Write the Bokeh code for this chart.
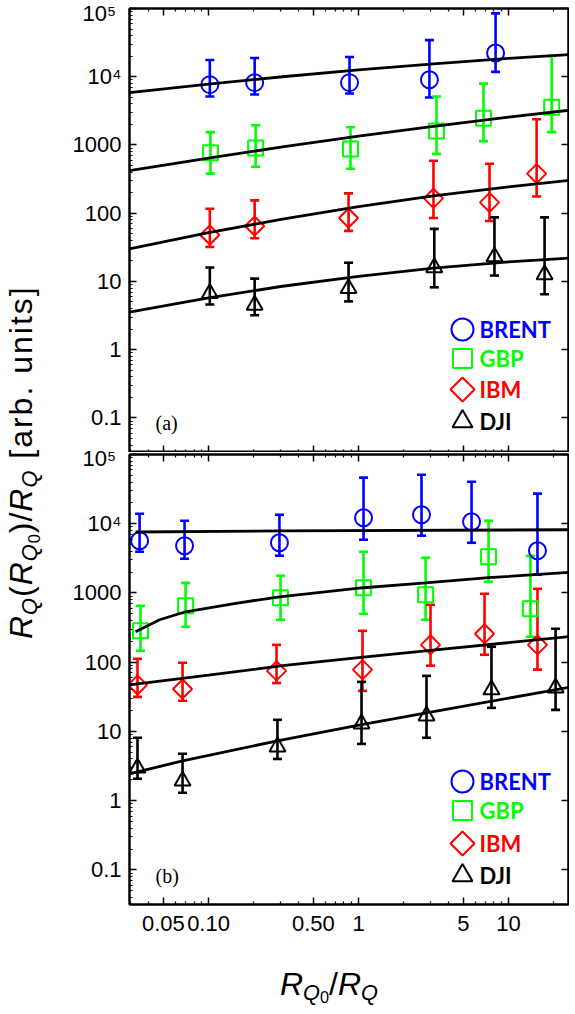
import math
from bokeh.plotting import figure
from bokeh.models import (ColumnDataSource, Whisker, TeeHead, FixedTicker, LogAxis,
                          Div, Range1d)
from bokeh.layouts import row, column
from bokeh.embed import file_html
from bokeh.resources import INLINE
from bokeh.core.properties import value

# ---------------- data ----------------
series_names = ["BRENT", "GBP", "IBM", "DJI"]
series_colors = ["#0000ff", "#00ff00", "#ff0000", "#000000"]

# panel (a)
brent_a_x = [0.102, 0.203, 0.871, 2.97, 8.2]
brent_a_y = [7660, 8190, 8190, 9050, 22300]
brent_a_hi = [17600, 18800, 19500, 34400, 84700]
brent_a_lo = [5130, 5480, 5670, 4960, 11800]

gbp_a_x = [0.103, 0.206, 0.884, 3.31, 6.81, 19.4]
gbp_a_y = [766, 906, 875, 1600, 2460, 3560]
gbp_a_hi = [1540, 1950, 1820, 5130, 7920, 20100]
gbp_a_lo = [380, 480, 449, 741, 1140, 1540]

ibm_a_x = [0.102, 0.203, 0.858, 3.16, 7.47, 15.4]
ibm_a_y = [48, 65, 85, 165, 144, 380]
ibm_a_hi = [116, 154, 195, 586, 531, 2380]
ibm_a_lo = [32, 43, 55, 85, 77, 176]

dji_a_x = [0.102, 0.203, 0.858, 3.2, 8.06, 17.4]
dji_a_y = [6.7, 4.5, 7.9, 16, 23, 12.6]
dji_a_hi = [16, 11, 18.8, 59, 87, 87]
dji_a_lo = [4.6, 3.2, 5.1, 8.2, 12.2, 6.5]

# fitted curves (a)
fit_a_x = [0.0297, 0.1, 0.311, 1.0, 3.16, 10.0, 28.8]
fit_brent_a = [5870, 7820, 10000, 12590, 15450, 18530, 21500]
fit_gbp_a = [420, 643, 935, 1343, 1875, 2556, 3330]
fit_ibm_a = [30, 51.8, 82, 124.5, 179, 244, 311]
fit_dji_a = [3.56, 5.75, 8.5, 11.9, 15.65, 19.4, 22.3]

# panel (b)
brent_b_x = [0.0347, 0.0692, 0.297, 1.08, 2.63, 5.67, 15.6]
brent_b_y = [5680, 4810, 5310, 12200, 13500, 10700, 4070]
brent_b_hi = [13950, 11050, 13480, 46300, 51100, 40400, 27200]
brent_b_lo = [3940, 3120, 3450, 5880, 6710, 5310, 1830]

gbp_b_x = [0.0352, 0.0703, 0.302, 1.08, 2.80, 7.36, 14.0]
gbp_b_y = [284, 653, 853, 1190, 942, 3340, 592]
gbp_b_hi = [653, 1400, 1770, 3940, 3230, 11050, 3450]
gbp_b_lo = [146, 325, 410, 500, 410, 1450, 233]

ibm_b_x = [0.0336, 0.0671, 0.284, 1.063, 3.02, 6.92, 15.6]
ibm_b_y = [47, 41, 75, 78, 178, 257, 178]
ibm_b_hi = [112, 98, 178, 284, 675, 973, 1150]
ibm_b_lo = [31.6, 27.7, 50, 38.6, 89, 128, 78]

dji_b_x = [0.0336, 0.0671, 0.288, 1.047, 2.84, 7.70, 20.6]
dji_b_y = [2.98, 1.93, 6.0, 12.9, 16.8, 40, 42.6]
dji_b_hi = [8.1, 4.75, 14.7, 52, 63.5, 167, 304]
dji_b_lo = [2.07, 1.30, 4.0, 6.6, 8.1, 21.9, 20.5]

# fitted curves (b)
fit_brent_b_x = [0.0326, 0.311, 28.8]
fit_brent_b = [7600, 7900, 8190]
fit_gbp_b_x = [0.0326, 0.0472, 0.0703, 0.145, 0.297, 1.08, 2.80, 7.36, 28.8]
fit_gbp_b = [275, 410, 535, 698, 881, 1190, 1400, 1660, 2020]
fit_ibm_b_x = [0.0297, 0.1, 0.311, 1.0, 3.02, 28.8]
fit_ibm_b = [47, 65, 89, 116, 148, 241]
fit_dji_b_x = [0.0297, 0.0671, 0.311, 1.047, 2.84, 28.8]
fit_dji_b = [2.44, 3.76, 7.57, 12.5, 18.6, 45.6]

# ticks
x_major = [0.05, 0.1, 0.5, 1, 5, 10]
x_major_labels = ["0.05", "0.10", "0.50", "1", "5", "10"]
x_minor = [0.03, 0.04, 0.06, 0.07, 0.08, 0.09, 0.2, 0.3, 0.4, 0.6, 0.7, 0.8, 0.9,
           2, 3, 4, 6, 7, 8, 9, 20]
y_major = [0.1, 1, 10, 100, 1000, 10000, 100000]
y_major_labels = ["0.1", "1", "10", "100", "1000", "10\u2074", "10\u2075"]
y_minor = [k * 10.0 ** d for d in range(-2, 5) for k in range(2, 10)]

# ---------------- layout constants ----------------
X_RANGE = (10 ** -1.527, 10 ** 1.4)
Y_RANGE_A = (10 ** -1.507, 10 ** 5)
Y_RANGE_B = (10 ** -1.5, 10 ** 5)
FIG_W = 509
FRAME_W = 439
TOP_BORDER_A = 8
FRAME_H_A = 452 - TOP_BORDER_A
FRAME_H_B = 450

MARKERS = [("circle", 17, 0.0), ("square", 15, 0.0), ("square", 13.5, math.pi / 4), ("triangle", 16, 0.0)]
LEG_MARKERS = [("circle", 22, 0.0), ("square", 19, 0.0), ("square", 17, math.pi / 4), ("triangle", 20, 0.0)]


def frame_to_data(px, py, yr, h):
    lx0, lx1 = math.log10(X_RANGE[0]), math.log10(X_RANGE[1])
    ly0, ly1 = math.log10(yr[0]), math.log10(yr[1])
    return 10 ** (lx0 + px / FRAME_W * (lx1 - lx0)), 10 ** (ly1 - py / h * (ly1 - ly0))


def style_axis(ax, ticks, minor, labels, show_labels, font_size="22px", standoff=8):
    ax.ticker = FixedTicker(ticks=ticks, minor_ticks=minor)
    ax.major_label_overrides = {t: l for t, l in zip(ticks, labels)}
    ax.axis_line_width = 2
    ax.axis_line_color = "black"
    ax.major_tick_in = 7
    ax.major_tick_out = 0
    ax.minor_tick_in = 3
    ax.minor_tick_out = 0
    ax.major_tick_line_width = 1.5
    ax.minor_tick_line_width = 1.2
    ax.major_tick_line_color = "black"
    ax.minor_tick_line_color = "black" if minor else None
    ax.axis_label = None
    if show_labels:
        ax.major_label_text_font = "Liberation Sans"
        ax.major_label_text_font_size = font_size
        ax.major_label_text_color = "black"
        ax.major_label_standoff = standoff
    else:
        ax.major_label_text_font_size = "0px"
        ax.major_label_text_alpha = 0
        ax.major_label_standoff = 0


def make_panel(yr, frame_h, border_top, border_bottom, show_x_labels, y_labels, data, fits,
               tag, leg_rows, tag_row):
    height = border_top + frame_h + border_bottom
    p = figure(width=FIG_W, height=height, x_axis_type="log", y_axis_type="log",
               x_range=Range1d(*X_RANGE), y_range=Range1d(*yr),
               output_backend="svg", toolbar_location=None,
               min_border_left=69, min_border_right=1,
               min_border_top=border_top, min_border_bottom=border_bottom)
    p.xgrid.visible = False
    p.ygrid.visible = False
    p.outline_line_color = "black"
    p.outline_line_width = 2
    p.border_fill_color = None
    p.background_fill_color = "white"

    style_axis(p.xaxis[0], x_major, x_minor, x_major_labels, show_x_labels, standoff=11)
    style_axis(p.yaxis[0], y_major, y_minor, y_labels, True, standoff=8)
    top_ax = LogAxis()
    style_axis(top_ax, x_major, x_minor, x_major_labels, False)
    p.add_layout(top_ax, "above")
    right_ax = LogAxis()
    style_axis(right_ax, y_major, [], y_major_labels, False)
    p.add_layout(right_ax, "right")

    for (xs, ys, his, los), color, (mk, sz, ang) in zip(data, series_colors, MARKERS):
        src = ColumnDataSource(dict(x=xs, y=ys, hi=his, lo=los))
        p.add_layout(Whisker(source=src, base="x", upper="hi", lower="lo", dimension="height",
                             line_color=color, line_width=2.6,
                             upper_head=TeeHead(size=9, line_color=color, line_width=2.6),
                             lower_head=TeeHead(size=9, line_color=color, line_width=2.6)))
        p.scatter("x", "y", source=src, marker=mk, size=sz, angle=ang,
                  line_color=color, line_width=2, fill_color=None)

    for fx, fy in fits:
        p.line(fx, fy, line_color="black", line_width=2.8)

    # legend, laid out in frame pixels
    for name, color, (mk, sz, ang), ry in zip(series_names, series_colors, LEG_MARKERS, leg_rows):
        mx, my = frame_to_data(333, ry, yr, frame_h)
        tx, ty = frame_to_data(350, ry, yr, frame_h)
        p.scatter([mx], [my], marker=mk, size=sz, angle=ang, line_color=color,
                  line_width=2, fill_color=None)
        p.text([tx], [ty], text=[name], text_color=color, text_font=value("Lato"),
               text_font_style="bold", text_font_size="22px",
               text_baseline="middle", text_align="left")

    lx, ly = frame_to_data(26, tag_row, yr, frame_h)
    p.text([lx], [ly], text=[tag], text_color="black", text_font=value("Liberation Serif"),
           text_font_size="20px", text_baseline="middle", text_align="left")
    return p


data_a = [(brent_a_x, brent_a_y, brent_a_hi, brent_a_lo),
          (gbp_a_x, gbp_a_y, gbp_a_hi, gbp_a_lo),
          (ibm_a_x, ibm_a_y, ibm_a_hi, ibm_a_lo),
          (dji_a_x, dji_a_y, dji_a_hi, dji_a_lo)]
fits_a = [(fit_a_x, fit_brent_a), (fit_a_x, fit_gbp_a), (fit_a_x, fit_ibm_a), (fit_a_x, fit_dji_a)]

data_b = [(brent_b_x, brent_b_y, brent_b_hi, brent_b_lo),
          (gbp_b_x, gbp_b_y, gbp_b_hi, gbp_b_lo),
          (ibm_b_x, ibm_b_y, ibm_b_hi, ibm_b_lo),
          (dji_b_x, dji_b_y, dji_b_hi, dji_b_lo)]
fits_b = [(fit_brent_b_x, fit_brent_b), (fit_gbp_b_x, fit_gbp_b),
          (fit_ibm_b_x, fit_ibm_b), (fit_dji_b_x, fit_dji_b)]

# the two "10^5" labels sit on canvas edges (top of page, seam between panels),
# so they are written by the HTML column at the left instead of by the axes
y_labels_cut = y_major_labels[:-1] + [""]

p1 = make_panel(Y_RANGE_A, FRAME_H_A, TOP_BORDER_A, 0, False, y_labels_cut, data_a, fits_a,
                "(a)", [321, 350, 381, 413], 414)
p2 = make_panel(Y_RANGE_B, FRAME_H_B, 2, 54, True, y_labels_cut, data_b, fits_b,
                "(b)", [327, 356, 389, 421], 421)

FONT = "font-family:'Liberation Sans',Arial,sans-serif;"
SUB = '<sub style="font-size:0.68em;vertical-align:-0.22em;">'
SUB0 = '<sub style="font-size:0.75em;vertical-align:-0.2em;font-style:normal;">0</sub>'


def tick_label_html(center_y_local, text):
    return ('<div style="position:absolute;left:41px;width:70px;top:%dpx;text-align:right;'
            'white-space:nowrap;' % (center_y_local - 9) + FONT +
            'font-size:22px;line-height:18px;color:black;">' + text + '</div>')


ylabel_html = (
    '<div style="position:relative;width:50px;height:998px;">'
    '<div style="position:absolute;left:0px;top:634px;transform-origin:0 0;transform:rotate(-90deg);'
    'white-space:nowrap;' + FONT + 'font-size:32px;line-height:1;color:black;">'
    '<span style="letter-spacing:1px;"><i>R</i>' + SUB + '<i>Q</i></sub>(<i>R</i>' + SUB + '<i>Q</i>'
    + SUB0 + '</sub>)/<i>R</i>' + SUB + '<i>Q</i></sub></span>'
    '<span style="letter-spacing:2px;">&nbsp;[arb. units]</span>'
    '</div>'
    + tick_label_html(TOP_BORDER_A + 1, y_major_labels[-1])
    + tick_label_html(454, y_major_labels[-1]) +
    '</div>')
ydiv = Div(text=ylabel_html, width=50, height=998)

xlabel_html = (
    '<div style="position:relative;width:509px;height:40px;">'
    '<div style="position:absolute;left:215px;top:5px;white-space:nowrap;' + FONT +
    'font-size:32px;line-height:1;color:black;">'
    '<i>R</i>' + SUB + '<i>Q</i>' + SUB0 + '</sub>/<i>R</i>' + SUB + '<i>Q</i></sub>'
    '</div></div>')
xdiv = Div(text=xlabel_html, width=509, height=40)

layout = row(ydiv, column(p1, p2, xdiv))

with open("out.html", "w") as f:
    f.write(file_html(layout, INLINE))
